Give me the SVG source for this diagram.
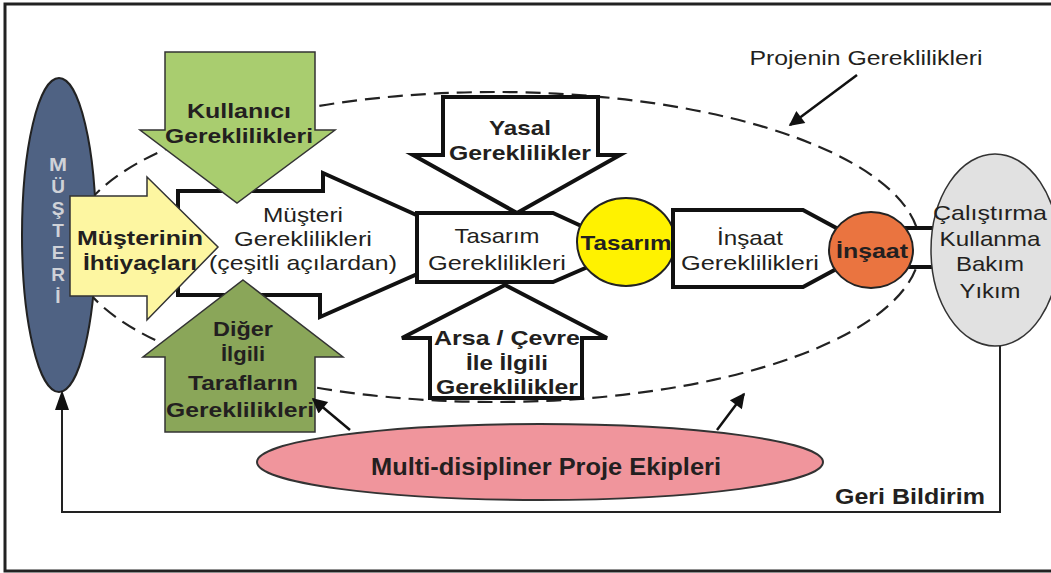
<svg xmlns="http://www.w3.org/2000/svg" width="1051" height="573" viewBox="0 0 1051 573">
<style>
.t{font-family:"Liberation Sans",Arial,sans-serif;fill:#231f20;text-anchor:middle}
.b{font-weight:bold}
.r{font-size:21px}
.bx{stroke:#111;stroke-width:4;fill:#fff;stroke-linejoin:miter}
.gr{stroke:#333;stroke-width:1.5}
.ln{stroke:#111;stroke-width:2.5;fill:none}
</style>
<defs>
<marker id="ah" viewBox="0 0 10 10" refX="9" refY="5" markerWidth="7.5" markerHeight="6" orient="auto" markerUnits="strokeWidth">
<path d="M0,0 L10,5 L0,10 Z" fill="#111"/>
</marker>
</defs>
<rect x="0" y="0" width="1051" height="573" fill="#fff"/>
<rect x="5" y="4" width="1060" height="567" fill="none" stroke="#222" stroke-width="3"/>

<g id="projenin-gereklilikleri">
<ellipse cx="495" cy="247" rx="425" ry="155" fill="none" stroke="#222" stroke-width="2.2" stroke-dasharray="15 8"/>
<text class="t r" x="866" y="65" textLength="233" lengthAdjust="spacingAndGlyphs">Projenin Gereklilikleri</text>
</g>

<g id="musteri">
<ellipse cx="59" cy="235" rx="37" ry="157" fill="#4f6283" stroke="#222" stroke-width="2"/>
<g class="t b" style="font-size:19px;fill:#cfd2d8">
<text x="58" y="171" textLength="18" lengthAdjust="spacingAndGlyphs">M</text>
<text x="58" y="193">Ü</text>
<text x="58" y="215">Ş</text>
<text x="58" y="237">T</text>
<text x="58" y="259">E</text>
<text x="58" y="281">R</text>
<text x="58" y="303">İ</text>
</g>
</g>

<g id="musteri-gereklilikleri">
<polygon class="bx" points="178,191 323,191 323,173 483,245 320,317 320,295 178,295"/>
<text class="t r" x="303" y="222" textLength="80" lengthAdjust="spacingAndGlyphs">Müşteri</text>
<text class="t r" x="303" y="246" textLength="138" lengthAdjust="spacingAndGlyphs">Gereklilikleri</text>
<text class="t r" x="303" y="270" textLength="188" lengthAdjust="spacingAndGlyphs">(çeşitli açılardan)</text>
</g>

<g id="kullanici-gereklilikleri">
<polygon class="gr" fill="#a9cd6f" points="165,52 315,52 315,130 335,130 237,203 140,130 165,130"/>
<text class="t b r" x="239" y="118" textLength="104" lengthAdjust="spacingAndGlyphs">Kullanıcı</text>
<text class="t b r" x="239" y="143" textLength="148" lengthAdjust="spacingAndGlyphs">Gereklilikleri</text>
</g>

<g id="diger-ilgili">
<polygon class="gr" fill="#8aa659" points="243,280 343,357 315,357 315,432 165,432 165,357 143,357"/>
<text class="t b r" x="243" y="336" textLength="60" lengthAdjust="spacingAndGlyphs">Diğer</text>
<text class="t b r" x="243" y="361" textLength="44" lengthAdjust="spacingAndGlyphs">İlgili</text>
<text class="t b r" x="243" y="390" textLength="110" lengthAdjust="spacingAndGlyphs">Tarafların</text>
<text class="t b r" x="240" y="417" textLength="148" lengthAdjust="spacingAndGlyphs">Gereklilikleri</text>
</g>

<g id="musterinin-ihtiyaclari">
<polygon class="gr" fill="#fdf6a1" points="70,196 147,196 147,177 218,247 147,320 147,296 70,296"/>
<text class="t b r" x="140" y="245" textLength="126" lengthAdjust="spacingAndGlyphs">Müşterinin</text>
<text class="t b r" x="140" y="270" textLength="114" lengthAdjust="spacingAndGlyphs">İhtiyaçları</text>
</g>

<g id="yasal-gereklilikler">
<polygon class="bx" points="443,97 598,97 598,155 620,155 517,213 413,155 443,155"/>
<text class="t b r" x="520" y="135" textLength="62" lengthAdjust="spacingAndGlyphs">Yasal</text>
<text class="t b r" x="520" y="160" textLength="142" lengthAdjust="spacingAndGlyphs">Gereklilikler</text>
</g>

<g id="arsa-cevre">
<polygon class="bx" points="505,285 607,338 582,338 582,398 430,398 430,338 402,338"/>
<text class="t b r" x="507" y="345" textLength="146" lengthAdjust="spacingAndGlyphs">Arsa / Çevre</text>
<text class="t b r" x="507" y="370" textLength="82" lengthAdjust="spacingAndGlyphs">İle İlgili</text>
<text class="t b r" x="507" y="394" textLength="142" lengthAdjust="spacingAndGlyphs">Gereklilikler</text>
</g>

<g id="tasarim-gereklilikleri">
<polygon class="bx" points="417,213 553,213 590,230 590,266 553,282 417,282"/>
<text class="t r" x="497" y="243" textLength="85" lengthAdjust="spacingAndGlyphs">Tasarım</text>
<text class="t r" x="497" y="270" textLength="138" lengthAdjust="spacingAndGlyphs">Gereklilikleri</text>
</g>

<g id="tasarim">
<ellipse cx="626" cy="242" rx="49" ry="44" fill="#fff200" stroke="#222" stroke-width="2"/>
<text class="t b r" x="626" y="250" textLength="91" lengthAdjust="spacingAndGlyphs">Tasarım</text>
</g>

<g id="insaat-gereklilikleri">
<polygon class="bx" points="673,210 803,210 840,230 840,267 803,287 673,287"/>
<text class="t r" x="750" y="245" textLength="66" lengthAdjust="spacingAndGlyphs">İnşaat</text>
<text class="t r" x="750" y="270" textLength="138" lengthAdjust="spacingAndGlyphs">Gereklilikleri</text>
</g>

<g id="band">
<rect x="903" y="228" width="36" height="39" fill="#fff"/>
<line x1="903" y1="228" x2="939" y2="228" stroke="#111" stroke-width="4"/>
<line x1="903" y1="267" x2="939" y2="267" stroke="#111" stroke-width="4"/>
</g>

<g id="insaat">
<ellipse cx="871" cy="250" rx="42" ry="38" fill="#ea7440" stroke="#222" stroke-width="2"/>
<text class="t b r" x="872" y="258" textLength="72" lengthAdjust="spacingAndGlyphs">İnşaat</text>
</g>

<g id="isletme">
<ellipse cx="995" cy="250" rx="64" ry="96" fill="#e1e1e1" stroke="#333" stroke-width="1.5"/>
<text class="t r" x="990" y="220" textLength="114" lengthAdjust="spacingAndGlyphs">Çalıştırma</text>
<text class="t r" x="990" y="246" textLength="101" lengthAdjust="spacingAndGlyphs">Kullanma</text>
<text class="t r" x="990" y="271" textLength="68" lengthAdjust="spacingAndGlyphs">Bakım</text>
<text class="t r" x="990" y="298" textLength="61" lengthAdjust="spacingAndGlyphs">Yıkım</text>
</g>

<g id="proje-ekipleri">
<ellipse cx="540" cy="462" rx="283" ry="38" fill="#f0959c" stroke="#333" stroke-width="2"/>
<text class="t b" style="font-size:23px" x="546" y="475" textLength="350" lengthAdjust="spacingAndGlyphs">Multi-disipliner Proje Ekipleri</text>
</g>

<g id="connectors">
<line class="ln" x1="857" y1="75" x2="790" y2="125" marker-end="url(#ah)"/>
<line class="ln" x1="350" y1="430" x2="313" y2="399" marker-end="url(#ah)"/>
<line class="ln" x1="717" y1="430" x2="744" y2="394" marker-end="url(#ah)"/>
<polyline points="1000,346 1000,512 62,512 62,405" fill="none" stroke="#222" stroke-width="2"/>
<polygon points="62,390 55,410 69,410" fill="#111"/>
<text class="t b" style="font-size:22px" x="910" y="504" textLength="150" lengthAdjust="spacingAndGlyphs">Geri Bildirim</text>
</g>
</svg>
